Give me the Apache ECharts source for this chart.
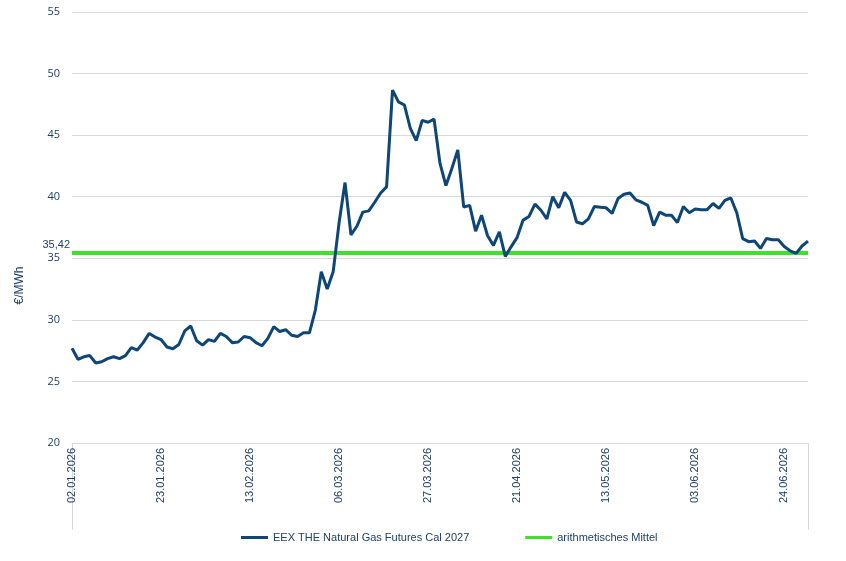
<!DOCTYPE html>
<html>
<head>
<meta charset="utf-8">
<title>EEX THE Natural Gas Futures Cal 2027</title>
<script src="https://cdn.jsdelivr.net/npm/echarts@6/dist/echarts.min.js"></script>
<style>
  html, body { margin: 0; padding: 0; background: #fff; }
  #main { width: 846px; height: 561px; }
</style>
</head>
<body>
<div id="main"></div>
<script>
// Handelstage ab 02.01.2026 (ohne Wochenenden und Feiertage)
var startDate = '2026-01-02';
var holidays = ['03.04.2026', '06.04.2026', '01.05.2026'];

var gasPrices = [
  27.7, 26.8, 27.0, 27.1, 26.5, 26.6, 26.85, 27.0, 26.85, 27.1,
  27.75, 27.55, 28.15, 28.9, 28.6, 28.4, 27.8, 27.65, 28.0, 29.1,
  29.5, 28.3, 27.95, 28.4, 28.25, 28.9, 28.65, 28.15, 28.2, 28.65,
  28.55, 28.15, 27.9, 28.5, 29.45, 29.05, 29.2, 28.75, 28.65, 28.95,
  28.95, 30.8, 33.9, 32.5, 33.9, 37.9, 41.15, 36.9, 37.6, 38.75,
  38.85, 39.55, 40.3, 40.8, 48.65, 47.7, 47.45, 45.55, 44.55, 46.2,
  46.05, 46.3, 42.7, 40.9, 42.3, 43.8, 39.15, 39.3, 37.2, 38.5,
  36.85, 36.05, 37.15, 35.15, 35.95, 36.7, 38.1, 38.4, 39.4, 38.9,
  38.2, 40.0, 39.1, 40.35, 39.7, 37.95, 37.8, 38.2, 39.2, 39.15,
  39.1, 38.65, 39.85, 40.2, 40.3, 39.75, 39.55, 39.3, 37.65, 38.75,
  38.5, 38.5, 37.9, 39.2, 38.7, 39.0, 38.95, 38.95, 39.45, 39.05,
  39.7, 39.9, 38.7, 36.6, 36.35, 36.4, 35.8, 36.6, 36.5, 36.5,
  35.95, 35.6, 35.4, 36.0, 36.4
];
var meanValue = 35.42;
var meanLabel = '35,42';

var seriesNames = ['EEX THE Natural Gas Futures Cal 2027', 'arithmetisches Mittel'];
var yTicks = { min: 20, max: 55, interval: 5 };

function pad(n) { return n < 10 ? '0' + n : '' + n; }

var dates = [];
var d = new Date(startDate + 'T00:00:00Z');
while (dates.length < gasPrices.length) {
  var wd = d.getUTCDay();
  var s = pad(d.getUTCDate()) + '.' + pad(d.getUTCMonth() + 1) + '.' + d.getUTCFullYear();
  if (wd !== 0 && wd !== 6 && holidays.indexOf(s) < 0) dates.push(s);
  d.setUTCDate(d.getUTCDate() + 1);
}

var textBlue = '#1f3f66';

// Mittelwert-Linie, Beschriftung nur am ersten Punkt
var meanData = gasPrices.map(function (v, i) {
  if (i === 0) {
    return {
      value: meanValue,
      label: { show: true, position: 'left', formatter: meanLabel, offset: [3, -8], color: textBlue, fontSize: 11, fontFamily: 'Liberation Sans, Arial, sans-serif' }
    };
  }
  return meanValue;
});

var myChart = echarts.init(document.getElementById('main'));

var option = {
  animation: false,
  grid: { left: 72, right: 38, top: 12, bottom: 118 },
  legend: {
    left: 236,
    bottom: 13,
    itemGap: 56,
    itemWidth: 27,
    itemHeight: 3,
    icon: 'rect',
    textStyle: { color: textBlue, fontSize: 11, fontFamily: 'Liberation Sans Narrow, Arial Narrow, Liberation Sans, sans-serif' },
    data: seriesNames
  },
  xAxis: {
    type: 'category',
    data: dates,
    boundaryGap: false,
    axisLine: { lineStyle: { color: '#d9d9d9' } },
    axisTick: {
      show: true,
      length: 87,
      interval: function (idx) { return idx === 0 || idx === dates.length - 1; },
      lineStyle: { color: '#d9d9d9' }
    },
    axisLabel: {
      interval: 14,
      rotate: 90,
      color: textBlue,
      fontSize: 11,
      margin: 5,
      fontFamily: 'Liberation Sans, Arial, sans-serif'
    }
  },
  yAxis: {
    type: 'value',
    min: yTicks.min,
    max: yTicks.max,
    interval: yTicks.interval,
    name: '€/MWh',
    nameLocation: 'middle',
    nameGap: 46,
    nameTextStyle: { color: textBlue, fontSize: 12, fontFamily: 'Liberation Sans, Arial, sans-serif', padding: [0, 116, 0, 0] },
    axisLine: { show: false },
    axisTick: { show: false },
    splitLine: { lineStyle: { color: '#d9d9d9' } },
    axisLabel: { color: textBlue, fontSize: 11, margin: 12, fontFamily: 'Open Sans, Liberation Sans, sans-serif' }
  },
  series: [
    {
      name: seriesNames[0],
      type: 'line',
      data: gasPrices,
      symbol: 'none',
      color: '#0d4677',
      lineStyle: { width: 3, color: '#0d4677' },
      z: 3
    },
    {
      name: seriesNames[1],
      type: 'line',
      data: meanData,
      symbol: 'circle',
      symbolSize: 0,
      showSymbol: true,
      showAllSymbol: true,
      color: '#3fe12b',
      lineStyle: { width: 4, color: '#3fe12b' },
      z: 2
    }
  ]
};

myChart.setOption(option);
</script>
</body>
</html>
